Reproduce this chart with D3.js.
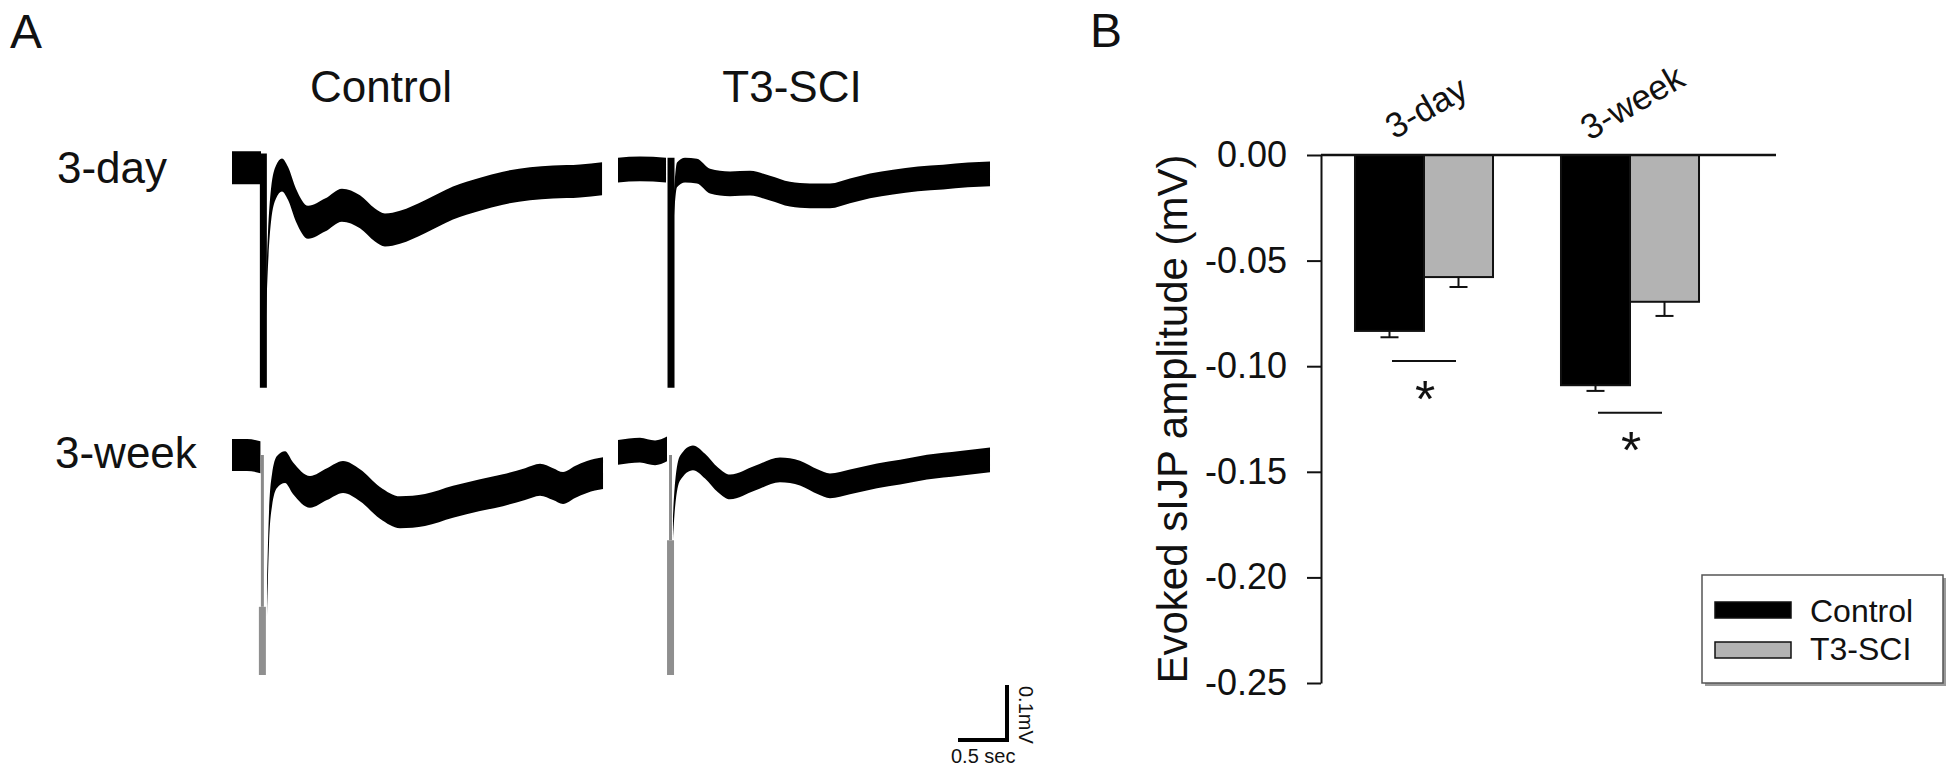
<!DOCTYPE html>
<html>
<head>
<meta charset="utf-8">
<script src="https://cdn.jsdelivr.net/npm/d3@7"></script>
<style>
  body { margin: 0; background: #fff; }
  svg { display: block; }
  text { font-family: "Liberation Sans", Arial, sans-serif; fill: #111; }
</style>
</head>
<body>
<svg id="fig" width="1950" height="779"></svg>
<script>
// ── Panel B data ─────────────────────────────────────────────
const groups  = ['3-day', '3-week'];
const series  = ['Control', 'T3-SCI'];
const meanCtl = [-0.0833, -0.1090];
const meanSci = [-0.0578, -0.0695];
const semCtl  = [0.0030, 0.0027];
const semSci  = [0.0047, 0.0067];
const sigLine = [-0.0975, -0.1220];   // level of the bracket line
const sigStar = [-0.1100, -0.1340];   // level of the asterisk
const yTicks  = [0, -0.05, -0.10, -0.15, -0.20, -0.25];

// ── Panel A traces: [time (s), mV relative to baseline]; null = stimulus break
const ctl3day = [[0,0.004],[0.15,0.004],[0.296,0.004],[0.32,null],[0.347,-0.236],[0.367,-0.145],
  [0.398,-0.064],[0.449,-0.022],[0.51,-0.009],[0.571,-0.024],[0.653,-0.064],[0.776,-0.095],
  [0.949,-0.082],[1.122,-0.064],[1.306,-0.076],[1.459,-0.10],[1.561,-0.109],[1.714,-0.104],
  [1.969,-0.085],[2.255,-0.06],[2.531,-0.044],[2.765,-0.033],[3.041,-0.025],[3.276,-0.022],
  [3.551,-0.02],[3.776,-0.016]];
const sci3day = [[0,0],[0.224,0.002],[0.49,0],[0.541,null],[0.571,-0.062],[0.602,-0.009],
  [0.684,0],[0.806,-0.002],[0.939,-0.02],[1.143,-0.025],[1.347,-0.024],[1.551,-0.033],
  [1.755,-0.044],[1.959,-0.047],[2.163,-0.047],[2.367,-0.038],[2.571,-0.029],[2.806,-0.022],
  [3.061,-0.016],[3.316,-0.013],[3.571,-0.009],[3.796,-0.007]];
const ctl3week = [[0,0],[0.153,0],[0.29,-0.004],[0.31,null],[0.357,-0.264],[0.378,-0.131],
  [0.408,-0.064],[0.459,-0.031],[0.541,-0.022],[0.622,-0.042],[0.796,-0.067],[0.969,-0.053],
  [1.133,-0.04],[1.306,-0.055],[1.51,-0.087],[1.714,-0.104],[1.969,-0.1],[2.255,-0.085],
  [2.531,-0.073],[2.765,-0.064],[2.99,-0.053],[3.143,-0.045],[3.276,-0.053],[3.378,-0.06],
  [3.5,-0.049],[3.622,-0.04],[3.786,-0.033]];
const sci3week = [[0,0.005],[0.224,0.009],[0.378,0.004],[0.5,0.011],[0.536,null],[0.561,-0.133],
  [0.582,-0.073],[0.633,-0.024],[0.765,-0.005],[0.888,-0.02],[1.02,-0.045],[1.143,-0.058],
  [1.398,-0.042],[1.653,-0.027],[1.857,-0.033],[2.041,-0.049],[2.163,-0.056],[2.367,-0.049],
  [2.643,-0.038],[2.878,-0.031],[3.153,-0.022],[3.49,-0.015],[3.796,-0.009]];

const traceNoise  = [0.060, 0.045, 0.058, 0.045];   // band width (mV)
const spikeTime   = [0.32, 0.541, 0.31, 0.536];
const spikeDepth  = [-0.396, -0.396, -0.40, -0.40];
const greyFrom    = [null, null, -0.276, -0.155];   // artifact drawn grey below this

const svg = d3.select('#fig');
svg.append('rect').attr('width', 1950).attr('height', 779).attr('fill', '#fff');

// ═════════════ Panel A ═════════════
const PX_PER_S  = 98;
const PX_PER_MV = 550;
const colX  = [232, 618];
const rowY  = [170, 455];

const traces = [
  { pts: ctl3day,  col: 0, row: 0 },
  { pts: sci3day,  col: 1, row: 0 },
  { pts: ctl3week, col: 0, row: 1 },
  { pts: sci3week, col: 1, row: 1 },
];

traces.forEach((tr, i) => {
  const xs = d3.scaleLinear().domain([0, 1]).range([colX[tr.col], colX[tr.col] + PX_PER_S]);
  const vs = d3.scaleLinear().domain([0, -1]).range([rowY[tr.row], rowY[tr.row] + PX_PER_MV]);
  const h  = traceNoise[i] / 2;
  const g  = svg.append('g');

  // stimulus artefact
  const sx = xs(spikeTime[i]);
  if (greyFrom[i] == null) {
    g.append('line')
      .attr('x1', sx).attr('x2', sx)
      .attr('y1', vs(h)).attr('y2', vs(spikeDepth[i]))
      .attr('stroke', '#000').attr('stroke-width', 7);
  } else {
    g.append('line')
      .attr('x1', sx).attr('x2', sx)
      .attr('y1', vs(0)).attr('y2', vs(greyFrom[i]))
      .attr('stroke', '#8a8a8a').attr('stroke-width', 3);
    g.append('line')
      .attr('x1', sx).attr('x2', sx)
      .attr('y1', vs(greyFrom[i])).attr('y2', vs(spikeDepth[i]))
      .attr('stroke', '#8f8f8f').attr('stroke-width', 7);
  }

  const area = d3.area()
    .defined(d => d[1] !== null)
    .x(d => xs(d[0]))
    .y0(d => vs(d[1] - h))
    .y1(d => vs(d[1] + h))
    .curve(d3.curveMonotoneX);

  g.append('path').datum(tr.pts).attr('d', area).attr('fill', '#000');
});

// labels
svg.append('text').attr('x', 10).attr('y', 48).attr('font-size', 48).text('A');
svg.append('text').attr('x', 381).attr('y', 102).attr('font-size', 44)
  .attr('text-anchor', 'middle').text('Control');
svg.append('text').attr('x', 792).attr('y', 102).attr('font-size', 44)
  .attr('text-anchor', 'middle').text('T3-SCI');
svg.append('text').attr('x', 57).attr('y', 183).attr('font-size', 44).text('3-day');
svg.append('text').attr('x', 55).attr('y', 468).attr('font-size', 44).text('3-week');

// scale bar: 0.5 s × 0.1 mV
const sbX = 1007, sbY = 740;
svg.append('path')
  .attr('d', `M${sbX - 0.5 * PX_PER_S},${sbY} H${sbX} V${sbY - 0.1 * PX_PER_MV}`)
  .attr('fill', 'none').attr('stroke', '#000').attr('stroke-width', 4);
svg.append('text').attr('x', sbX - 56).attr('y', 763).attr('font-size', 20).text('0.5 sec');
svg.append('text').attr('transform', `translate(${sbX + 12},${sbY - 54}) rotate(90)`)
  .attr('font-size', 20).text('0.1mV');

// ═════════════ Panel B ═════════════
const axisX = 1321;
const y = d3.scaleLinear().domain([0, -0.25]).range([155, 683]);

const x0 = d3.scaleBand().domain(groups).range([axisX, 1733])
  .paddingInner(0.33).paddingOuter(0.165);
const x1 = d3.scaleBand().domain(series).range([0, x0.bandwidth()]);

svg.append('text').attr('x', 1090).attr('y', 47).attr('font-size', 48).text('B');

// y axis
const yAxis = d3.axisLeft(y).tickValues(yTicks).tickSize(14).tickSizeOuter(0)
  .tickPadding(20).tickFormat(d => d.toFixed(2));
const ag = svg.append('g').attr('transform', `translate(${axisX},0)`).call(yAxis);
ag.select('.domain').attr('stroke', '#111').attr('stroke-width', 2);
ag.selectAll('.tick line').attr('stroke', '#111').attr('stroke-width', 2);
ag.selectAll('.tick text').attr('font-size', 36).attr('fill', '#111')
  .attr('font-family', '"Liberation Sans", Arial, sans-serif');

svg.append('text')
  .attr('transform', `translate(1172,${(y(0) + y(-0.25)) / 2}) rotate(-90)`)
  .attr('text-anchor', 'middle').attr('dominant-baseline', 'central')
  .attr('font-size', 42).text('Evoked sIJP amplitude (mV)');

// bars
const barData = [];
groups.forEach((gname, gi) => {
  barData.push({ g: gname, s: series[0], v: meanCtl[gi], e: semCtl[gi], fill: '#000' });
  barData.push({ g: gname, s: series[1], v: meanSci[gi], e: semSci[gi], fill: '#b3b3b3' });
});

const bg = svg.append('g');
bg.selectAll('rect').data(barData).join('rect')
  .attr('x', d => x0(d.g) + x1(d.s))
  .attr('y', y(0))
  .attr('width', x1.bandwidth())
  .attr('height', d => y(d.v) - y(0))
  .attr('fill', d => d.fill)
  .attr('stroke', '#111').attr('stroke-width', 2);

// error bars (downward only)
const eg = svg.append('g').attr('stroke', '#111').attr('stroke-width', 2);
barData.forEach(d => {
  const cx = x0(d.g) + x1(d.s) + x1.bandwidth() / 2;
  eg.append('line').attr('x1', cx).attr('x2', cx).attr('y1', y(d.v)).attr('y2', y(d.v - d.e));
  eg.append('line').attr('x1', cx - 9).attr('x2', cx + 9).attr('y1', y(d.v - d.e)).attr('y2', y(d.v - d.e));
});

// zero line
svg.append('line').attr('x1', axisX).attr('x2', 1776).attr('y1', y(0)).attr('y2', y(0))
  .attr('stroke', '#111').attr('stroke-width', 2.5);

// group labels
groups.forEach(gname => {
  const cx = x0(gname) + x0.bandwidth() / 2;
  svg.append('text')
    .attr('transform', `translate(${cx + 2},${gname === '3-day' ? 107 : 102}) rotate(-30)`)
    .attr('text-anchor', 'middle').attr('dominant-baseline', 'central')
    .attr('font-size', 35).text(gname);
});

// significance
groups.forEach((gname, gi) => {
  const cx = x0(gname) + x0.bandwidth() / 2;
  svg.append('line').attr('x1', cx - 32).attr('x2', cx + 32)
    .attr('y1', y(sigLine[gi])).attr('y2', y(sigLine[gi]))
    .attr('stroke', '#111').attr('stroke-width', 2);
  svg.append('text').attr('x', cx + 1).attr('y', y(sigStar[gi]) + 30)
    .attr('text-anchor', 'middle').attr('font-size', 52).text('*');
});

// legend
const lg = svg.append('g').attr('transform', 'translate(1702,575)');
lg.append('rect').attr('x', 3).attr('y', 3).attr('width', 241).attr('height', 108).attr('fill', '#9a9a9a');
lg.append('rect').attr('width', 241).attr('height', 108).attr('fill', '#fff')
  .attr('stroke', '#555').attr('stroke-width', 1.5);
series.forEach((s, i) => {
  lg.append('rect').attr('x', 13).attr('y', 27 + i * 40).attr('width', 76).attr('height', 16)
    .attr('fill', i === 0 ? '#000' : '#b3b3b3').attr('stroke', '#111').attr('stroke-width', 1.5);
  lg.append('text').attr('x', 108).attr('y', 47 + i * 38).attr('font-size', 32).text(s);
});
</script>
</body>
</html>
